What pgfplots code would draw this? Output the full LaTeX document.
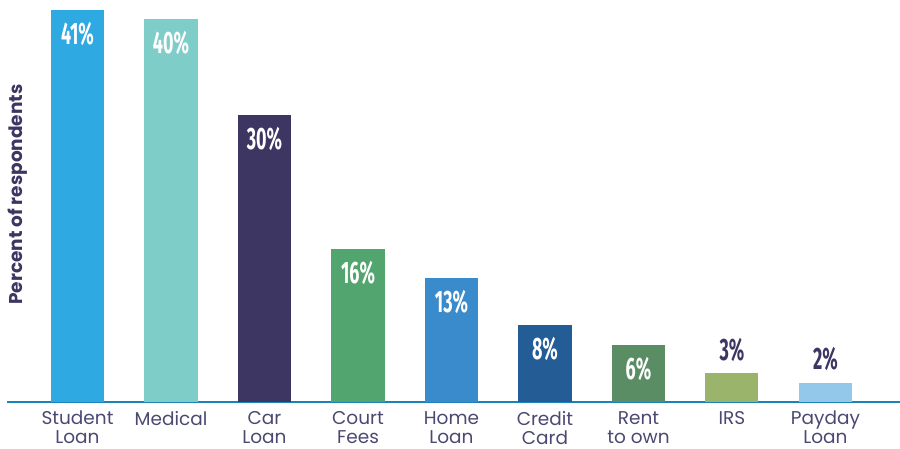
\documentclass[border=0pt]{standalone}
\usepackage{pgfplots}
\pgfplotsset{compat=1.18}
\usepackage{fontspec}
\setmainfont{Poppins}
\newfontfamily\condfont[FakeStretch=0.58]{Fira Sans}
\definecolor{cA}{HTML}{2EA9E1}
\definecolor{cB}{HTML}{7FCDC8}
\definecolor{cC}{HTML}{3D3663}
\definecolor{cD}{HTML}{52A56E}
\definecolor{cE}{HTML}{3A8BCB}
\definecolor{cF}{HTML}{245C96}
\definecolor{cG}{HTML}{5A8D64}
\definecolor{cH}{HTML}{9AB46B}
\definecolor{cI}{HTML}{93C8EA}
\definecolor{axline}{HTML}{1A84B8}
\definecolor{navy}{HTML}{3D3663}
\definecolor{ticktext}{HTML}{4B4872}
\begin{document}
\begin{tikzpicture}
\begin{axis}[
  at={(0,0)}, anchor=south west,
  scale only axis,
  width=893pt, height=402pt,
  xmin=-0.754, xmax=8.797,
  ymin=0, ymax=42,
  ybar,
  bar width=0.567,
  axis x line=bottom,
  axis y line=left,
  y axis line style={draw=none},
  ytick=\empty,
  x axis line style={draw=axline, line width=2pt, -},
  xtick={0,1,2,3,4,5,6,7,8},
  xticklabels={Student\\Loan, Medical, Car\\Loan, Court\\Fees, Home\\Loan, Credit\\Card, Rent\\to own, IRS, Payday\\Loan},
  major tick length=0pt,
  xticklabel style={align=center, anchor=north, inner sep=0pt, text=ticktext,
    font=\fontsize{18.5}{19}\selectfont, yshift=-9pt},
  ylabel={Percent of respondents},
  every axis y label/.style={at={(rel axis cs:0.0011,0.516)}, rotate=90, anchor=north,
    inner sep=0pt, text=navy, font=\bfseries\fontsize{18.5}{18.5}\selectfont},
  clip=false,
  /pgf/number format/assume math mode=true,
  nodes near coords={\pgfmathprintnumber{\pgfplotspointmeta}\%},
  every node near coord/.style={anchor=north, inner sep=0pt, yshift=-12pt, text=white,
    font=\condfont\bfseries\fontsize{31}{31}\selectfont},
]
\addplot[fill=cA, draw=none, bar shift=0pt] coordinates {(0,41)};
\addplot[fill=cB, draw=none, bar shift=0pt] coordinates {(1,40)};
\addplot[fill=cC, draw=none, bar shift=0pt] coordinates {(2,30)};
\addplot[fill=cD, draw=none, bar shift=0pt] coordinates {(3,16)};
\addplot[fill=cE, draw=none, bar shift=0pt] coordinates {(4,13)};
\addplot[fill=cF, draw=none, bar shift=0pt] coordinates {(5,8)};
\addplot[fill=cG, draw=none, bar shift=0pt] coordinates {(6,6)};
\addplot[fill=cH, draw=none, bar shift=0pt,
  every node near coord/.style={anchor=south, inner sep=0pt, yshift=11pt, text=navy,
    font=\condfont\bfseries\fontsize{31}{31}\selectfont}] coordinates {(7,3)};
\addplot[fill=cI, draw=none, bar shift=0pt,
  every node near coord/.style={anchor=south, inner sep=0pt, yshift=12pt, text=navy,
    font=\condfont\bfseries\fontsize{31}{31}\selectfont}] coordinates {(8,2)};
\end{axis}
\pgfresetboundingbox
\path (-7pt,-47pt) rectangle (893pt,402pt);
\end{tikzpicture}
\end{document}
